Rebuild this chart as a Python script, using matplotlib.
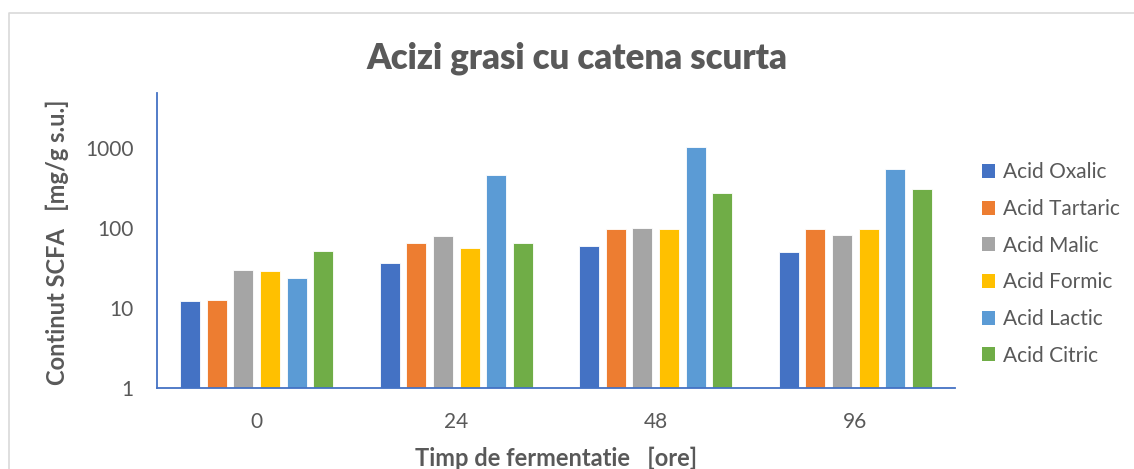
import numpy as np
import matplotlib.pyplot as plt
from matplotlib.lines import Line2D
from matplotlib.patches import Patch

plt.rcParams['font.family'] = ['Lato', 'DejaVu Sans']

# data (log scale)
categories = ["0", "24", "48", "96"]
series_names = ["Acid Oxalic", "Acid Tartaric", "Acid Malic",
                "Acid Formic", "Acid Lactic", "Acid Citric"]
oxalic = [12.2, 36.8, 59, 50]
tartaric = [12.6, 65, 97, 96.5]
malic = [29.6, 78.7, 99, 81]
formic = [29, 56, 96.5, 96]
lactic = [23.5, 460, 1020, 541]
citric = [51, 65, 268, 304]

colors = ["#4472C4", "#ED7D31", "#A5A5A5", "#FFC000", "#5B9BD5", "#70AD47"]
text_color = "#595959"
axis_color = "#4472C4"

fig = plt.figure(figsize=(11.34, 4.69), dpi=100)
ax = fig.add_axes([157 / 1134, 81 / 469, 798 / 1134, 295 / 469])

values = [oxalic, tartaric, malic, formic, lactic, citric]
x = np.arange(len(categories))
pitch = 0.1333
for i, (name, vals) in enumerate(zip(series_names, values)):
    ax.bar(x + (i - 2.5) * pitch, vals, width=0.1, color=colors[i],
           edgecolor="white", linewidth=0.6, label=name)

ax.set_yscale("log")
ax.set_ylim(1, 4800)
ax.set_xlim(-0.5, 3.5)
ax.set_yticks([1, 10, 100, 1000])
ax.set_yticklabels(["1", "10", "100", "1000"])
ax.minorticks_off()
ax.set_xticks(x)
ax.set_xticklabels(categories)
ax.tick_params(axis="y", length=0, pad=17, labelsize=15, labelcolor=text_color)
ax.tick_params(axis="x", length=0, pad=17, labelsize=15, labelcolor=text_color)

for side in ["top", "right"]:
    ax.spines[side].set_visible(False)
for side in ["left", "bottom"]:
    ax.spines[side].set_color(axis_color)
    ax.spines[side].set_linewidth(1.3)

fig.text(577 / 1134, 1 - 58 / 469, "Acizi grasi cu catena scurta",
         ha="center", va="center", fontsize=25, fontweight="heavy", color=text_color)
fig.text(556 / 1134, 1 - 458 / 469, "Timp de fermentatie   [ore]",
         ha="center", va="center", fontsize=17, fontweight="bold", color=text_color)
fig.text(57 / 1134, 1 - 242 / 469, "Continut SCFA   [mg/g s.u.]", rotation=90,
         ha="center", va="center", fontsize=17, fontweight="bold", color=text_color)

handles = [Patch(facecolor=c, label=n) for c, n in zip(colors, series_names)]
leg = fig.legend(handles=handles, loc="center left",
                 bbox_to_anchor=(963 / 1134, 1 - 264 / 469), frameon=False,
                 fontsize=15, handlelength=0.65, handleheight=0.65,
                 handletextpad=0.35, labelspacing=0.8)
for t in leg.get_texts():
    t.set_color(text_color)

# light chart-area border (top and left visible)
fig.add_artist(Line2D([9 / 1134, 9 / 1134, 1], [0, 1 - 13 / 469, 1 - 13 / 469],
                      color="#D9D9D9", linewidth=1.2))

fig.savefig("out.png", dpi=100)
